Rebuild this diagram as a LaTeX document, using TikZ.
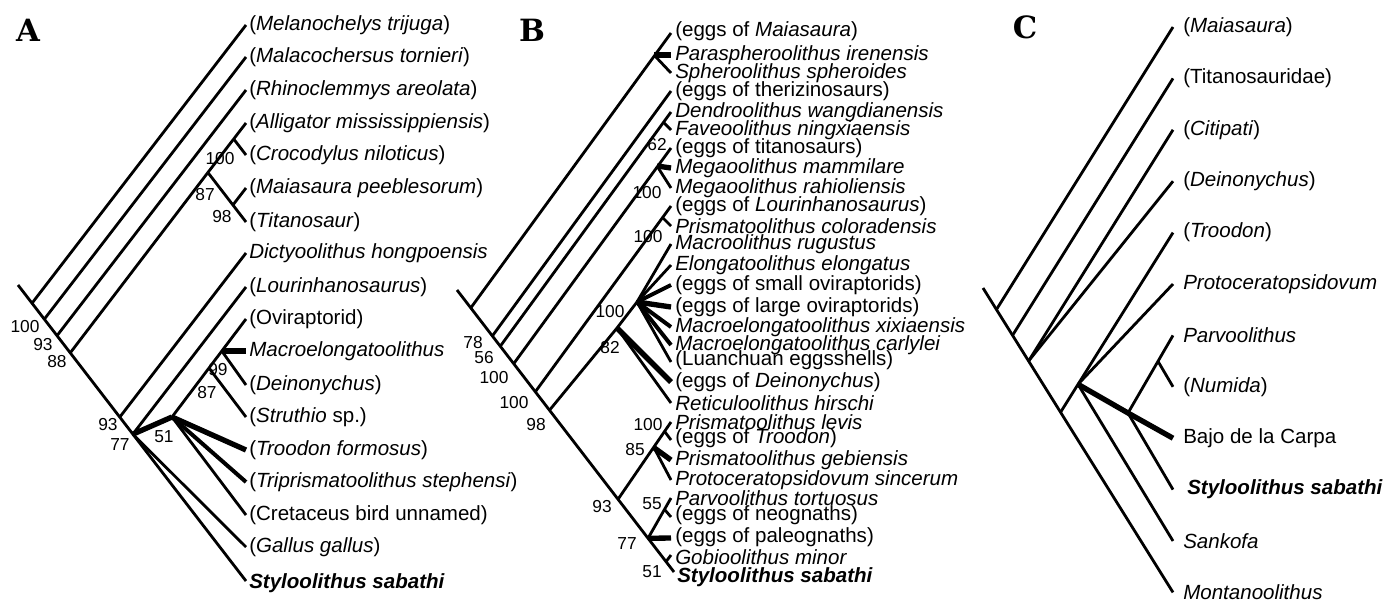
\documentclass[tikz,border=0pt]{standalone}
\usepackage{fontspec}
\setmainfont{Liberation Sans}
\newfontfamily\panelfont{DejaVu Serif}
\begin{document}
\begin{tikzpicture}[x=0.75pt,y=-0.75pt,line join=round,
  br/.style={draw,line width=2.1pt},
  md/.style={draw,line width=3pt},
  tk/.style={draw,line width=4pt},
  tx/.style={anchor=west,inner sep=0pt,font=\fontsize{15.4}{16}\selectfont},
  bs/.style={inner sep=0pt,font=\fontsize{13}{14}\selectfont},
  pl/.style={inner sep=0pt,font=\panelfont\bfseries\fontsize{23}{24}\selectfont}]
\useasboundingbox (0,0) rectangle (1392,600);
\clip (0,0) rectangle (1392,600);
% ================= PANEL A =================
\node[pl] (labA) at (28,30) {A};
\foreach \i/\y in {0/25,1/57,2/90,3/123,4/155,5/188,6/222,7/253,8/287,9/319,10/351,11/385,12/417,13/450,14/482,15/515,16/547,17/581}
  {\coordinate (a\i) at (246,\y);}
\coordinate (rA) at (18,285);
\coordinate (jA1) at (32.0,303.2);
\coordinate (jA2) at (44.3,319.2);
\coordinate (jA3) at (57.0,335.7);
\coordinate (jA4) at (70.2,352.9);
\coordinate (jA5) at (119.7,417.2);
\coordinate (jA6) at (132.8,434.2);
\coordinate (nCr) at (207.9,172.5);
\coordinate (nAC) at (233.7,139);
\coordinate (nMT) at (232.9,205);
\coordinate (n51) at (172,417);
\coordinate (n99) at (221.8,351);
\coordinate (n87) at (209,368);
\draw[br] (rA) -- (a17);
\draw[br] (jA1) -- (a0);
\draw[br] (jA2) -- (a1);
\draw[br] (jA3) -- (a2);
\draw[br] (jA4) -- (nCr);
\draw[br] (nCr) -- (a3);
\draw[br] (nCr) -- (a6);
\draw[br] (nAC) -- (a4);
\draw[br] (nMT) -- (a5);
\draw[br] (jA5) -- (a7);
\draw[br] (jA6) -- (a8);
\draw[tk] (jA6) -- (n51);
\draw[br] (n51) -- (a9);
\draw[tk] (n99) -- (a10);
\draw[br] (n99) -- (a11);
\draw[br] (n87) -- (a12);
\draw[tk] (n51) -- (a13);
\draw[md] (n51) -- (a14);
\draw[br] (n51) -- (a15);
\draw[br] (jA6) -- (a16);
\node[tx] (tA0) at (249,25) {(\textit{Melanochelys trijuga})};
\node[tx] (tA1) at (249,57) {(\textit{Malacochersus tornieri})};
\node[tx] (tA2) at (249,90) {(\textit{Rhinoclemmys areolata})};
\node[tx] (tA3) at (249,123) {(\textit{Alligator mississippiensis})};
\node[tx] (tA4) at (249,155) {(\textit{Crocodylus niloticus})};
\node[tx] (tA5) at (249,188) {(\textit{Maiasaura peeblesorum})};
\node[tx] (tA6) at (249,222) {(\textit{Titanosaur})};
\node[tx] (tA7) at (249,253) {\textit{Dictyoolithus hongpoensis}};
\node[tx] (tA8) at (249,287) {(\textit{Lourinhanosaurus})};
\node[tx] (tA9) at (249,319) {(Oviraptorid)};
\node[tx] (tA10) at (249,351) {\textit{Macroelongatoolithus}};
\node[tx] (tA11) at (249,385) {(\textit{Deinonychus})};
\node[tx] (tA12) at (249,417) {(\textit{Struthio} sp.)};
\node[tx] (tA13) at (249,450) {(\textit{Troodon formosus})};
\node[tx] (tA14) at (249,482) {(\textit{Triprismatoolithus stephensi})};
\node[tx] (tA15) at (249,515) {(Cretaceus bird unnamed)};
\node[tx] (tA16) at (249,547) {(\textit{Gallus gallus})};
\node[tx] (tA17) at (249,583) {\textbf{\textit{Styloolithus sabathi}}};
\node[bs] (sA1) at (25,327) {100};
\node[bs] (sA2) at (43,345) {93};
\node[bs] (sA3) at (57,362) {88};
\node[bs] (sA4) at (220,159) {100};
\node[bs] (sA5) at (205,195) {87};
\node[bs] (sA6) at (222,217) {98};
\node[bs] (sA7) at (108,425) {93};
\node[bs] (sA8) at (120,445) {77};
\node[bs] (sA9) at (164,437) {51};
\node[bs] (sA10) at (207,393) {87};
\node[bs] (sA11) at (218,370) {99};
% ================= PANEL B =================
\node[pl] (labB) at (532,30) {B};
\foreach \i/\y in {0/33,1/55,2/73,3/91,4/112,5/130,6/148,7/168,8/188,9/206,10/226,11/244,12/265,13/285,14/307,15/327,16/345,17/362,18/382,19/403,20/422,21/440,22/460,23/480,24/498,25/517,26/538,27/555}
  {\coordinate (b\i) at (671,\y);}
\coordinate (b28) at (674,572);
\coordinate (rB) at (457,290);
\coordinate (jB1) at (470.8,307.9);
\coordinate (jB2) at (492.4,335.9);
\coordinate (jB3) at (500.3,346.2);
\coordinate (jB4) at (513.7,363.7);
\coordinate (jB5) at (535.3,391.8);
\coordinate (jB6) at (549.5,410.2);
\coordinate (jB7) at (618,499.3);
\coordinate (jB8) at (648,538.3);
\coordinate (jB9) at (666,561.7);
\coordinate (nPa) at (654,55);
\coordinate (nFa) at (663,121.7);
\coordinate (nMe) at (657,166);
\coordinate (nPc) at (662,217);
\coordinate (n82) at (617,328);
\coordinate (nFan) at (637,302);
\coordinate (nTr) at (665,432);
\coordinate (n85) at (654,447.7);
\coordinate (n55) at (665,510);
\draw[br] (rB) -- (b28);
\draw[br] (jB1) -- (b0);
\draw[tk] (nPa) -- (b1);
\draw[br] (nPa) -- (b2);
\draw[br] (jB2) -- (b3);
\draw[br] (jB3) -- (b4);
\draw[br] (nFa) -- (b5);
\draw[br] (jB4) -- (b6);
\draw[tk] (nMe) -- (b7);
\draw[br] (nMe) -- (b8);
\draw[br] (jB5) -- (b9);
\draw[br] (nPc) -- (b10);
\draw[br] (jB6) -- (n82) -- (nFan);
\draw[br] (nFan) -- (b11);
\draw[br] (nFan) -- (b12);
\draw[md] (nFan) -- (b13);
\draw[tk] (nFan) -- (b14);
\draw[md] (nFan) -- (b15);
\draw[md] (nFan) -- (b16);
\draw[br] (nFan) -- (b17);
\draw[tk] (n82) -- (b18);
\draw[br] (n82) -- (b19);
\draw[br] (jB7) -- (b20);
\draw[br] (nTr) -- (b21);
\draw[tk] (n85) -- (b22);
\draw[br] (n85) -- (b23);
\draw[br] (jB8) -- (b24);
\draw[br] (n55) -- (b25);
\draw[tk] (jB8) -- (b26);
\draw[br] (jB9) -- (b27);
\node[tx] (tB0) at (675,31) {(eggs of \textit{Maiasaura})};
\node[tx] (tB1) at (675,55) {\textit{Paraspheroolithus irenensis}};
\node[tx] (tB2) at (675,73) {\textit{Spheroolithus spheroides}};
\node[tx] (tB3) at (675,91) {(eggs of therizinosaurs)};
\node[tx] (tB4) at (675,112) {\textit{Dendroolithus wangdianensis}};
\node[tx] (tB5) at (675,130) {\textit{Faveoolithus ningxiaensis}};
\node[tx] (tB6) at (675,148) {(eggs of titanosaurs)};
\node[tx] (tB7) at (675,168) {\textit{Megaoolithus mammilare}};
\node[tx] (tB8) at (675,188) {\textit{Megaoolithus rahioliensis}};
\node[tx] (tB9) at (675,206) {(eggs of \textit{Lourinhanosaurus})};
\node[tx] (tB10) at (675,226) {\textit{Prismatoolithus coloradensis}};
\node[tx] (tB11) at (675,244) {\textit{Macroolithus rugustus}};
\node[tx] (tB12) at (675,265) {\textit{Elongatoolithus elongatus}};
\node[tx] (tB13) at (675,285) {(eggs of small oviraptorids)};
\node[tx] (tB14) at (675,307) {(eggs of large oviraptorids)};
\node[tx] (tB15) at (675,327) {\textit{Macroelongatoolithus xixiaensis}};
\node[tx] (tB16) at (675,345) {\textit{Macroelongatoolithus carlylei}};
\node[tx] (tB17) at (675,360) {(Luanchuan eggsshells)};
\node[tx] (tB18) at (675,382) {(eggs of \textit{Deinonychus})};
\node[tx] (tB19) at (675,403) {\textit{Reticuloolithus hirschi}};
\node[tx] (tB20) at (675,422) {\textit{Prismatoolithus levis}};
\node[tx] (tB21) at (675,438) {(eggs of \textit{Troodon})};
\node[tx] (tB22) at (675,460) {\textit{Prismatoolithus gebiensis}};
\node[tx] (tB23) at (675,480) {\textit{Protoceratopsidovum sincerum}};
\node[tx] (tB24) at (675,498) {\textit{Parvoolithus tortuosus}};
\node[tx] (tB25) at (675,515) {(eggs of neognaths)};
\node[tx] (tB26) at (675,537) {(eggs of paleognaths)};
\node[tx] (tB27) at (675,557) {\textit{Gobioolithus minor}};
\node[tx] (tB28) at (677,577) {\textbf{\textit{Styloolithus sabathi}}};
\node[bs] (sB1) at (657,145) {62};
\node[bs] (sB2) at (647,193) {100};
\node[bs] (sB3) at (648,237) {100};
\node[bs] (sB4) at (610,312) {100};
\node[bs] (sB5) at (610,348) {82};
\node[bs] (sB6) at (473,343) {78};
\node[bs] (sB7) at (484,358) {56};
\node[bs] (sB8) at (494,378) {100};
\node[bs] (sB9) at (514,403) {100};
\node[bs] (sB10) at (536,425) {98};
\node[bs] (sB11) at (648,425) {100};
\node[bs] (sB12) at (635,450) {85};
\node[bs] (sB13) at (602,507) {93};
\node[bs] (sB14) at (652,504) {55};
\node[bs] (sB15) at (627,544) {77};
\node[bs] (sB16) at (652,572) {51};
% ================= PANEL C =================
\node[pl] (labC) at (1025,27) {C};
\foreach \i/\y in {0/27,1/78.4,2/129.8,3/181.2,4/232.6,5/284,6/335.4,7/386.8,8/438.2,9/489.6,10/541,11/592.4}
  {\coordinate (c\i) at (1173,\y);}
\coordinate (rC) at (983,288);
\coordinate (jC1) at (996.4,309.6);
\coordinate (jC2) at (1012.5,335.4);
\coordinate (jC3) at (1028.6,361);
\coordinate (jC4) at (1060.7,412);
\coordinate (nP) at (1078,384.3);
\coordinate (nQ) at (1128,413);
\coordinate (nR) at (1158,361.3);
\draw[br] (rC) -- (c11);
\draw[br] (jC1) -- (c0);
\draw[br] (jC2) -- (c1);
\draw[br] (jC3) -- (c2);
\draw[br] (jC3) -- (c3);
\draw[br] (jC4) -- (c4);
\draw[br] (nP) -- (c5);
\draw[tk] (nP) -- (nQ);
\draw[tk] (nQ) -- (c8);
\draw[br] (nQ) -- (c6);
\draw[br] (nR) -- (c7);
\draw[br] (nQ) -- (c9);
\draw[br] (nP) -- (c10);
\node[tx] (tC0) at (1183,27) {(\textit{Maiasaura})};
\node[tx] (tC1) at (1183,78.4) {(Titanosauridae)};
\node[tx] (tC2) at (1183,129.8) {(\textit{Citipati})};
\node[tx] (tC3) at (1183,181.2) {(\textit{Deinonychus})};
\node[tx] (tC4) at (1183,232.6) {(\textit{Troodon})};
\node[tx] (tC5) at (1183,284) {\textit{Protoceratopsidovum}};
\node[tx] (tC6) at (1183,335.4) {\textit{Parvoolithus}};
\node[tx] (tC7) at (1183,386.8) {(\textit{Numida})};
\node[tx] (tC8) at (1183,438.2) {Bajo de la Carpa};
\node[tx] (tC9) at (1187,489.6) {\textbf{\textit{Styloolithus sabathi}}};
\node[tx] (tC10) at (1183,541) {\textit{Sankofa}};
\node[tx] (tC11) at (1183,592.4) {\textit{Montanoolithus}};
\end{tikzpicture}
\end{document}
